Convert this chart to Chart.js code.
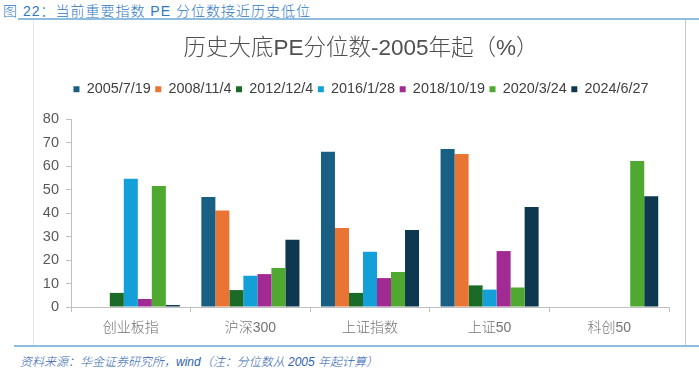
<!DOCTYPE html>
<html><head><meta charset="utf-8">
<script src="https://cdn.jsdelivr.net/npm/chart.js@4/dist/chart.umd.min.js"></script>
<style>
html,body{margin:0;padding:0;background:#fff;width:699px;height:377px;overflow:hidden;font-family:"Liberation Sans","Noto Sans CJK SC",sans-serif;}
#hdr{position:absolute;left:3px;top:0px;font-size:14px;letter-spacing:1px;color:#2f78c2;white-space:nowrap;font-weight:300;}
#hline{position:absolute;left:18px;top:18px;width:681px;height:2px;background:#8fbde0;}
#frame{position:absolute;left:33px;top:20px;width:653px;height:325px;border-left:1px solid #e6e6e6;border-right:1px solid #c8c8c8;box-sizing:border-box;}
#wrap{position:absolute;left:33px;top:20px;width:656px;height:325px;}
#fline{position:absolute;left:14px;top:345px;width:685px;height:2px;background:#8fbde0;}
#ftr{position:absolute;left:20px;top:352px;font-size:12px;font-style:italic;color:#2f63b0;white-space:nowrap;font-weight:300;}
</style></head>
<body>
<div id="hdr">图 22：当前重要指数 PE 分位数接近历史低位</div>
<div id="hline"></div>
<div id="frame"></div>
<div id="wrap"><canvas id="c" width="656" height="325"></canvas></div>
<div id="fline"></div>
<div id="ftr">资料来源：华金证券研究所，wind（注：分位数从 2005 年起计算）</div>
<script>
const categories = ["创业板指", "沪深300", "上证指数", "上证50", "科创50"];
const seriesNames = ["2005/7/19", "2008/11/4", "2012/12/4", "2016/1/28", "2018/10/19", "2020/3/24", "2024/6/27"];
const s2005 = [null, 46.8, 66.1, 67.2, null];
const s2008 = [null, 41.1, 33.6, 65.1, null];
const s2012 = [6.0, 7.2, 6.0, 9.2, null];
const s2016 = [54.6, 13.3, 23.5, 7.4, null];
const s2018 = [3.4, 14.0, 12.3, 23.8, null];
const s2020 = [51.5, 16.6, 14.9, 8.3, 62.1];
const s2024 = [0.85, 28.6, 32.8, 42.6, 47.1];
const yTicks = [0, 10, 20, 30, 40, 50, 60, 70, 80];
const colors = ["#185f83", "#ea7433", "#1a6b27", "#139fd7", "#a12a93", "#4fa82f", "#0e384f"];
const allSeries = [s2005, s2008, s2012, s2016, s2018, s2020, s2024];

const FONT = "'Liberation Sans','Noto Sans CJK SC',sans-serif";

const legendHeightPlugin = {
  id: 'legendHeight',
  beforeLayout(chart) {
    const lg = chart.legend;
    if (lg && !lg._patched) {
      const orig = lg.fit;
      lg.fit = function () { orig.call(this); this.height += 12.5; };
      lg._patched = true;
    }
  }
};

new Chart(document.getElementById('c'), {
  type: 'bar',
  data: {
    labels: categories,
    datasets: allSeries.map((d, i) => ({
      label: seriesNames[i], data: d, backgroundColor: colors[i],
      borderWidth: 0, categoryPercentage: 0.82, barPercentage: 1.0, yAxisID: 'y'
    }))
  },
  plugins: [legendHeightPlugin],
  options: {
    responsive: false, animation: false,
    layout: { padding: { left: 0, right: 0, top: 0, bottom: 0 } },
    plugins: {
      title: { display: true, text: '历史大底PE分位数-2005年起（%）', color: '#505050',
        font: { family: FONT, size: 22.5, weight: 300 }, padding: { top: 15, bottom: 15.5 } },
      legend: { position: 'top', labels: { boxWidth: 6, boxHeight: 6, padding: 4.6, color: '#404040',
        font: { family: FONT, size: 14.4 } } },
      tooltip: { enabled: false }
    },
    scales: {
      x: {
        grid: { display: true, drawOnChartArea: false, drawTicks: true, tickLength: 5, color: '#bfbfbf', offset: true },
        border: { color: '#bfbfbf' },
        afterFit: s => { s.height = 38; },
        ticks: { color: '#737373', font: { family: FONT, size: 14, weight: 300 }, padding: 8 }
      },
      y: {
        min: 0, max: 80,
        afterBuildTicks: s => { s.ticks = yTicks.map(v => ({ value: v })); },
        afterFit: s => { s.width = 38; },
        grid: { display: true, drawOnChartArea: false, drawTicks: true, tickLength: 5, color: '#bfbfbf' },
        border: { color: '#bfbfbf' },
        ticks: { color: '#595959', font: { family: FONT, size: 14.5 }, padding: 7 }
      },
      yR: {
        position: 'right', display: true, min: 0, max: 80,
        afterFit: s => { s.width = 20; },
        grid: { display: false, drawTicks: false },
        border: { display: false },
        ticks: { display: false }
      }
    }
  }
});
</script>
</body></html>
